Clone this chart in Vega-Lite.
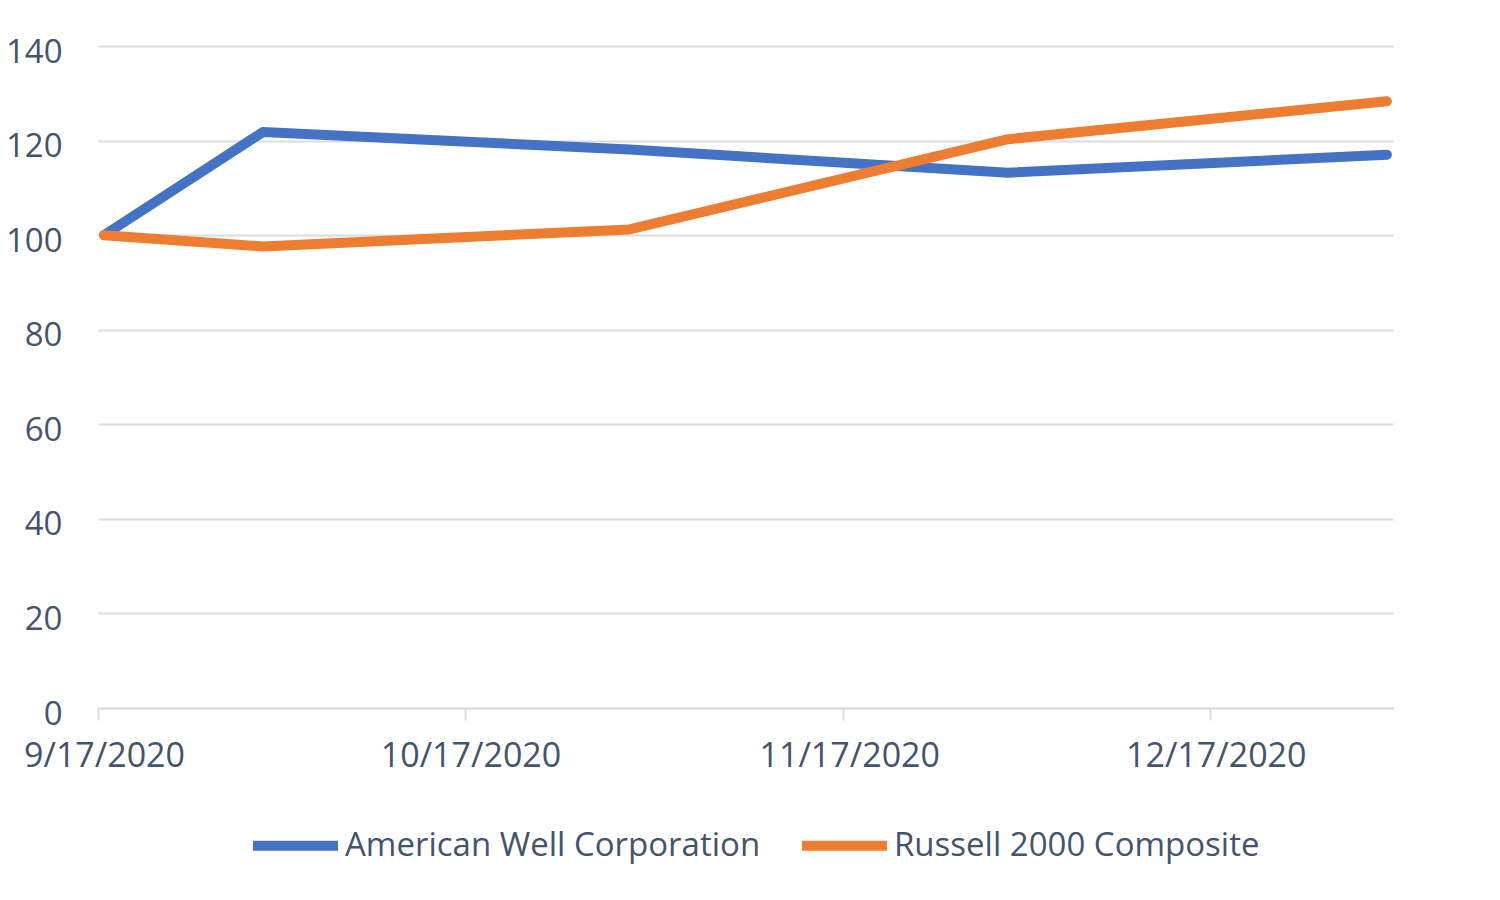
{
  "$schema": "https://vega.github.io/schema/vega-lite/v6.json",
  "width": 1295,
  "height": 662,
  "autosize": {"type": "none"},
  "padding": {"left": 98, "top": 46, "right": 107, "bottom": 192},
  "background": "white",
  "data": {
    "values": [
      {"date": "2020-09-17T12:00:00", "series": "American Well Corporation", "value": 100},
      {"date": "2020-09-30T12:00:00", "series": "American Well Corporation", "value": 121.8},
      {"date": "2020-10-30T12:00:00", "series": "American Well Corporation", "value": 118.1},
      {"date": "2020-11-30T12:00:00", "series": "American Well Corporation", "value": 113.2},
      {"date": "2020-12-31T12:00:00", "series": "American Well Corporation", "value": 117.0},
      {"date": "2020-09-17T12:00:00", "series": "Russell 2000 Composite", "value": 100},
      {"date": "2020-09-30T12:00:00", "series": "Russell 2000 Composite", "value": 97.6},
      {"date": "2020-10-30T12:00:00", "series": "Russell 2000 Composite", "value": 101.2},
      {"date": "2020-11-30T12:00:00", "series": "Russell 2000 Composite", "value": 120.3},
      {"date": "2020-12-31T12:00:00", "series": "Russell 2000 Composite", "value": 128.3}
    ]
  },
  "mark": {"type": "line", "strokeWidth": 10, "strokeCap": "round", "strokeJoin": "round"},
  "encoding": {
    "x": {
      "field": "date",
      "type": "temporal",
      "scale": {"domain": ["2020-09-17T00:00:00", "2021-01-01T00:00:00"]},
      "axis": {
        "title": null,
        "values": ["2020-09-17T00:00:00", "2020-10-17T00:00:00", "2020-11-17T00:00:00", "2020-12-17T00:00:00"],
        "format": "%-m/%-d/%Y",
        "grid": false,
        "domainColor": "#DCDCE2",
        "domainWidth": 2,
        "tickColor": "#DCDCE2",
        "tickWidth": 2,
        "tickSize": 12,
        "labelPadding": 19,
        "labelOffset": 6,
        "labelFlush": false,
        "labelLimit": 500,
        "labelOverlap": false,
        "labelFontSize": 34,
        "labelFont": "Open Sans",
        "labelColor": "#44546A"
      }
    },
    "y": {
      "field": "value",
      "type": "quantitative",
      "scale": {"domain": [0, 140], "nice": false},
      "axis": {
        "title": null,
        "values": [0, 20, 40, 60, 80, 100, 120, 140],
        "domain": false,
        "ticks": false,
        "gridColor": "#DCDCE2",
        "gridWidth": 2,
        "labelPadding": 36,
        "labelOffset": 6,
        "labelFontSize": 33,
        "labelFont": "Open Sans",
        "labelColor": "#44546A"
      }
    },
    "color": {
      "field": "series",
      "type": "nominal",
      "scale": {"domain": ["American Well Corporation", "Russell 2000 Composite"], "range": ["#4472C4", "#ED7D31"]},
      "legend": {
        "title": null,
        "orient": "none",
        "legendX": 150,
        "legendY": 752,
        "direction": "horizontal",
        "columns": 2,
        "symbolType": "stroke",
        "symbolSize": 7225,
        "symbolStrokeWidth": 10,
        "labelFontSize": 33,
        "labelFont": "Open Sans",
        "labelColor": "#44546A",
        "labelOffset": 2,
        "labelLimit": 1000,
        "columnPadding": 21,
        "padding": 0
      }
    }
  },
  "config": {"view": {"stroke": null}}
}
